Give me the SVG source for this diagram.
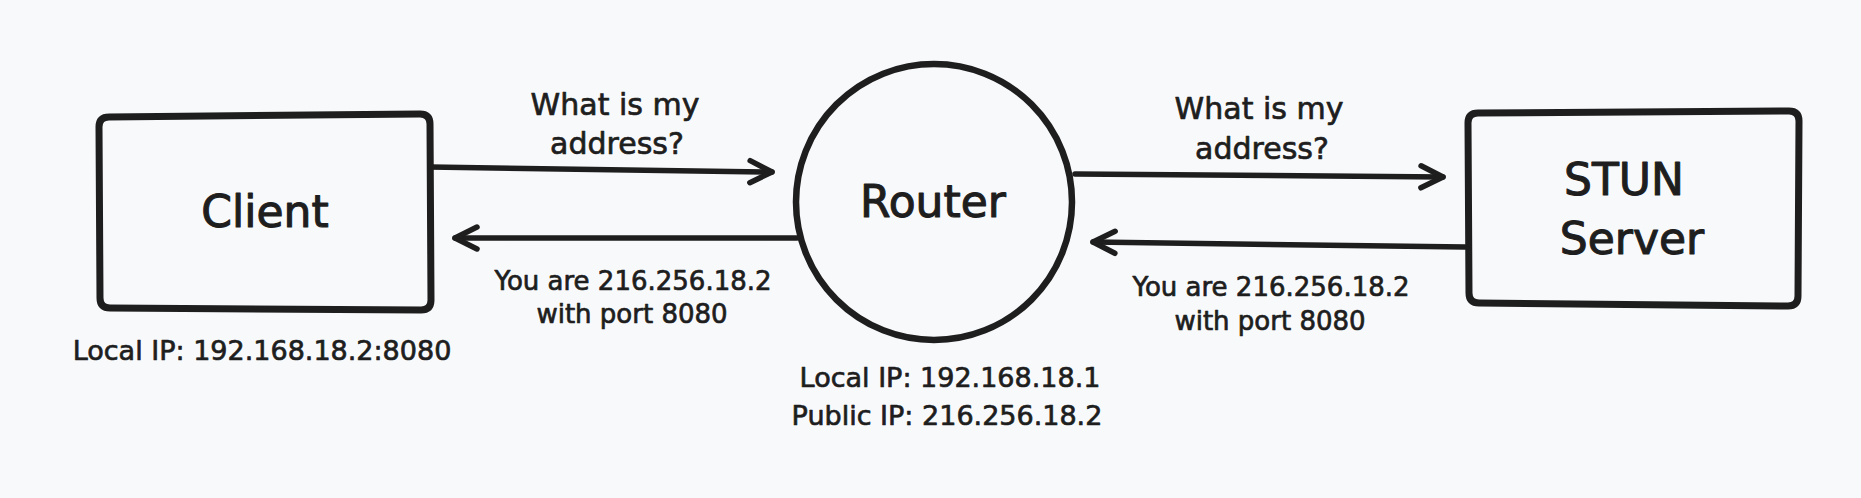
<svg xmlns="http://www.w3.org/2000/svg" width="1861" height="498" viewBox="0 0 1861 498">
  <style>
    .shape { fill: none; stroke: #1e1e1e; stroke-linejoin: round; stroke-linecap: round; }
    .conn { fill: none; stroke: #1e1e1e; stroke-width: 5.5; stroke-linecap: round; }
    text { font-family: "DejaVu Sans", "Liberation Sans", sans-serif; fill: #1e1e1e; stroke: #1e1e1e; stroke-width: 0.7; stroke-linejoin: round; text-anchor: middle; }
    .node { font-size: 44px; stroke-width: 1.1; }
    .lbl { font-size: 30px; }
    .lbl2 { font-size: 26px; }
    .ip { font-size: 27px; }
  </style>
  <defs>
    <marker id="ah" viewBox="-26 -15 30 30" refX="0" refY="0" markerWidth="30" markerHeight="30" markerUnits="userSpaceOnUse" orient="auto">
      <path d="M-22,-11 L0,0 L-22,11" fill="none" stroke="#1e1e1e" stroke-width="5.5" stroke-linecap="round" stroke-linejoin="round"/>
    </marker>
  </defs>
  <rect x="0" y="0" width="1861" height="498" fill="#f8f9fb"/>

  <g id="client">
    <path class="shape" stroke-width="7" d="M109,117 L420,114 Q430,114 430,124 L431,300 Q431,310 421,310 L110,308 Q100,308 100,298 L99,127 Q99,117 109,117 Z"/>
    <text class="node" x="265" y="227">Client</text>
    <text class="ip" x="262" y="360">Local IP: 192.168.18.2:8080</text>
  </g>

  <g id="router">
    <circle class="shape" stroke-width="6.5" cx="934" cy="202" r="138"/>
    <text class="node" x="933" y="217">Router</text>
    <text class="ip" x="950" y="387">Local IP: 192.168.18.1</text>
    <text class="ip" x="947" y="425">Public IP: 216.256.18.2</text>
  </g>

  <g id="stun">
    <path class="shape" stroke-width="7" d="M1478,113 L1789,111 Q1799,111 1799,121 L1798,296 Q1798,306 1788,306 L1479,303 Q1469,303 1469,293 L1468,123 Q1468,113 1478,113 Z"/>
    <text class="node" x="1624" y="195">STUN</text>
    <text class="node" x="1632" y="254">Server</text>
  </g>

  <g id="connectors">
    <path class="conn" d="M430,167 L772,172" marker-end="url(#ah)"/>
    <path class="conn" d="M797,238 L455,238" marker-end="url(#ah)"/>
    <path class="conn" d="M1075,174 L1443,177" marker-end="url(#ah)"/>
    <path class="conn" d="M1465,247 L1093,242" marker-end="url(#ah)"/>
    <text class="lbl" x="615" y="115">What is my</text>
    <text class="lbl" x="617" y="154">address?</text>
    <text class="lbl2" x="633" y="290">You are 216.256.18.2</text>
    <text class="lbl2" x="632" y="323">with port 8080</text>
    <text class="lbl" x="1259" y="119">What is my</text>
    <text class="lbl" x="1262" y="159">address?</text>
    <text class="lbl2" x="1271" y="296">You are 216.256.18.2</text>
    <text class="lbl2" x="1270" y="330">with port 8080</text>
  </g>
</svg>
